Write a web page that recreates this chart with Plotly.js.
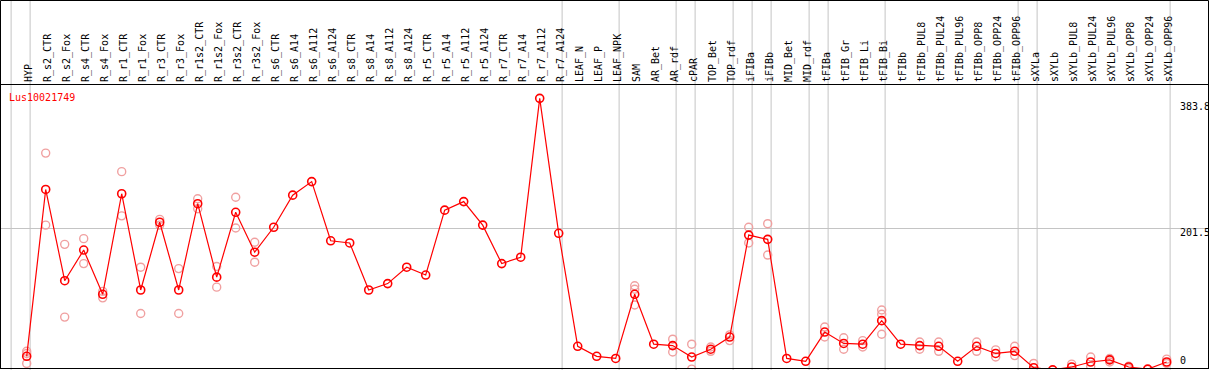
<!DOCTYPE html>
<html>
<head>
<meta charset="utf-8">
<script src="https://cdn.plot.ly/plotly-3.0.1.min.js"></script>
<style>
  html, body { margin: 0; padding: 0; background: #fff; }
  #chart { width: 1209px; height: 370px; }
</style>
</head>
<body>
<div id="chart"></div>
<script>
const geneName = 'Lus10021749';

const categories = [
  'HYP','R_s2_CTR','R_s2_Fox','R_s4_CTR','R_s4_Fox','R_r1_CTR','R_r1_Fox','R_r3_CTR','R_r3_Fox',
  'R_r1s2_CTR','R_r1s2_Fox','R_r3s2_CTR','R_r3s2_Fox','R_s6_CTR','R_s6_A14','R_s6_A112','R_s6_A124',
  'R_s8_CTR','R_s8_A14','R_s8_A112','R_s8_A124','R_r5_CTR','R_r5_A14','R_r5_A112','R_r5_A124',
  'R_r7_CTR','R_r7_A14','R_r7_A112','R_r7_A124','LEAF_N','LEAF_P','LEAF_NPK','SAM','AR_Bet','AR_rdf',
  'cPAR','TOP_Bet','TOP_rdf','iFIBa','iFIBb','MID_Bet','MID_rdf','tFIBa','tFIB_Gr','tFIB_Li','tFIB_Bi',
  'tFIBb','tFIBb_PUL8','tFIBb_PUL24','tFIBb_PUL96','tFIBb_OPP8','tFIBb_OPP24','tFIBb_OPP96',
  'sXYLa','sXYLb','sXYLb_PUL8','sXYLb_PUL24','sXYLb_PUL96','sXYLb_OPP8','sXYLb_OPP24','sXYLb_OPP96'
];

const meanValues = [
  22, 256, 128, 171, 109, 250, 115, 210, 115,
  236, 133, 224, 168, 203, 248, 267, 184,
  181, 115, 124, 147, 136, 227, 239, 206,
  152, 161, 383.8, 194.5, 36, 22, 19, 109, 39, 37,
  21, 32, 49, 192, 186, 19, 15, 56, 40, 39, 72,
  39, 37, 36, 15, 36, 26, 29,
  6, 3, 7, 14, 17, 7, 4, 14
];

const replicateValues = [
  [29, 26, 12], [307, 206], [179, 77], [187, 152], [113, 104], [281, 219], [147, 82], [214, 206], [145, 82],
  [243, 229], [148, 119], [245, 202], [182, 154], [], [], [], [],
  [], [], [], [], [], [], [], [],
  [], [], [], [], [], [], [], [121, 116, 94], [], [46, 28],
  [39, 4], [35, 29], [52, 44], [203, 181], [208, 164], [], [], [63, 49], [48, 32], [44, 35], [87, 81, 53],
  [], [42, 32], [42, 29], [], [42, 29], [31, 21], [36, 23],
  [12, 1], [], [11, 2], [21, 8], [19, 14], [8, 5], [], [18, 12]
];

// last category of each sample group (group separators)
const groupEnds = ['HYP','R_r7_A124','LEAF_NPK','AR_rdf','cPAR','TOP_rdf','iFIBa','iFIBb',
  'MID_rdf','tFIBa','tFIB_Bi','tFIBb_OPP96','sXYLa','sXYLb_OPP96'];

const yTickVals = [0, 201.5, 383.8];
const yTickText = ['0', '201.5', '383.8'];
const yGridVals = [201.5];

const repX = [], repY = [];
replicateValues.forEach((arr, i) => arr.forEach(v => { repX.push(categories[i]); repY.push(v); }));

const W = 1209, H = 370;
const M = {l: 1, r: 1, t: 85, b: 2};
const plotH = H - M.t - M.b;
const plotW = W - M.l - M.r;
const yRange = [5.6, 402.5];
const xRange = [-1.3526, 62.174];

const sepPositions = [-1].concat(groupEnds.map(n => categories.indexOf(n))).map(i => i + 0.18);
const gray = '#c4c4c4';

const shapes = sepPositions.map(p => ({
  type: 'line', xref: 'x', yref: 'paper', x0: p, x1: p, y0: -0.02, y1: 1 + (M.t + 2) / plotH,
  line: {color: gray, width: 1}, layer: 'below'
}));
// outer frame of the whole figure
shapes.push({
  type: 'rect', xref: 'paper', yref: 'paper',
  x0: -0.5 / plotW, x1: 1 + 0.5 / plotW, y0: -0.5 / plotH, y1: 1 + (M.t - 0.5) / plotH,
  line: {color: '#000', width: 1}, fillcolor: 'rgba(0,0,0,0)', layer: 'above'
});

const mono = 'DejaVu Sans Mono, monospace';

const annotations = yTickVals.map((v, k) => {
  const frac = Math.min(1, Math.max(0, (v - yRange[0]) / (yRange[1] - yRange[0])));
  const shift = [0, -4, -8][k];
  return {
    xref: 'paper', yref: 'paper', x: (1178 - M.l) / plotW, y: frac,
    xanchor: 'left', yanchor: k === 0 ? 'bottom' : 'middle', yshift: shift,
    text: yTickText[k], showarrow: false, font: {family: mono, size: 10, color: '#000'}
  };
});

const traces = [
  {
    x: repX, y: repY, type: 'scatter', mode: 'markers', hoverinfo: 'skip',
    marker: {symbol: 'circle-open', size: 8, color: '#f0a0a0', line: {width: 1.4, color: '#f0a0a0'}}
  },
  {
    x: categories, y: meanValues, type: 'scatter', mode: 'lines+markers',
    line: {color: '#ff0000', width: 1.2},
    marker: {symbol: 'circle-open', size: 8, color: '#ff0000', line: {width: 1.6, color: '#ff0000'}}
  }
];

const layout = {
  width: W, height: H,
  margin: M,
  paper_bgcolor: '#fff', plot_bgcolor: '#fff',
  showlegend: false,
  title: {
    text: geneName, xref: 'container', yref: 'container', x: 9 / W, y: 1 - 97 / H,
    xanchor: 'left', yanchor: 'middle', font: {family: mono, size: 10, color: '#ff0000'}
  },
  xaxis: {
    type: 'category', categoryorder: 'array', categoryarray: categories,
    range: xRange, side: 'top', tickangle: -90, ticks: '', showgrid: false, zeroline: false,
    ticklabelshift: 2,
    tickfont: {family: mono, size: 10, color: '#000'},
    showline: true, linecolor: '#000', linewidth: 1, mirror: true, fixedrange: true
  },
  yaxis: {
    range: yRange, tickvals: yGridVals, showticklabels: false, ticks: '',
    showgrid: true, gridcolor: gray, gridwidth: 1, zeroline: false,
    showline: true, linecolor: '#000', linewidth: 1, mirror: true, fixedrange: true
  },
  shapes: shapes,
  annotations: annotations
};

Plotly.newPlot('chart', traces, layout, {staticPlot: true, displayModeBar: false});
</script>
</body>
</html>
